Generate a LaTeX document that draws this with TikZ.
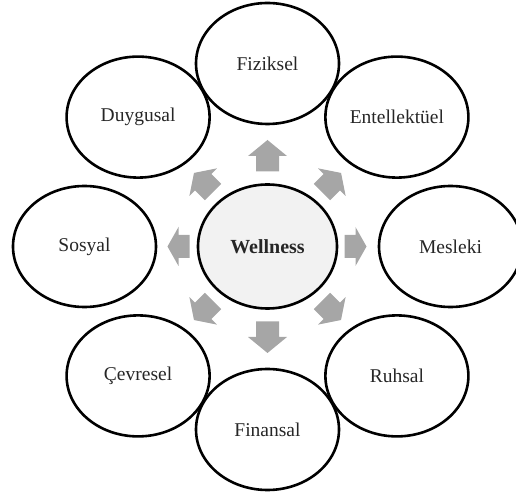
\documentclass[tikz,border=0pt]{standalone}
\usepackage{fontspec}
\setmainfont{Liberation Serif}
\usetikzlibrary{shapes.geometric}

\definecolor{ringgray}{HTML}{A6A6A6}
\definecolor{hubfill}{HTML}{F2F2F2}
\definecolor{labeltext}{HTML}{262626}

\tikzset{
    area/.style={draw, ellipse, line width=2.6pt, minimum width=143pt, minimum height=121pt,
        inner sep=0pt, text=labeltext, font=\fontsize{19.5}{23}\selectfont},
    hub/.style={area, fill=hubfill, minimum width=139pt, minimum height=124pt, font=\fontsize{20}{24}\selectfont\bfseries},
    spoke/.style={fill=ringgray}
}

\begin{document}
\begin{tikzpicture}[x=1pt, y=1pt]
                \useasboundingbox (-267.5,-250.5) rectangle (248.5,246.5);

                % grey arrows pointing out from the hub: angle/tail/length/head
                \foreach \a/\t/\l/\h in {90/75/31.5/16, -90/75/31.5/16, 0/77/22/11, 180/78/22/11,
                                         45/77/27/13, 135/77/27/13, -45/77/27/13, -135/77/27/13}
                    \fill[spoke, rotate=\a] (\t,-11.5) -- (\t+\l-\h,-11.5) -- (\t+\l-\h,-19.5) -- (\t+\l,0)
                        -- (\t+\l-\h,19.5) -- (\t+\l-\h,11.5) -- (\t,11.5) -- cycle;

                \node[hub] (W) at (0,0) {Wellness};

                \node[area] (F) at (90:183) {Fiziksel};
                \node[area] (E) at (45:183) {Entellektüel};
                \node[area] (M) at (0:183) {Mesleki};
                \node[area] (R) at (-45:183) {Ruhsal};
                \node[area] (N) at (-90:183) {Finansal};
                \node[area] (C) at (-135:183) {Çevresel};
                \node[area] (S) at (180:183) {Sosyal};
                \node[area] (D) at (135:183) {Duygusal};
            \end{tikzpicture}
\end{document}
